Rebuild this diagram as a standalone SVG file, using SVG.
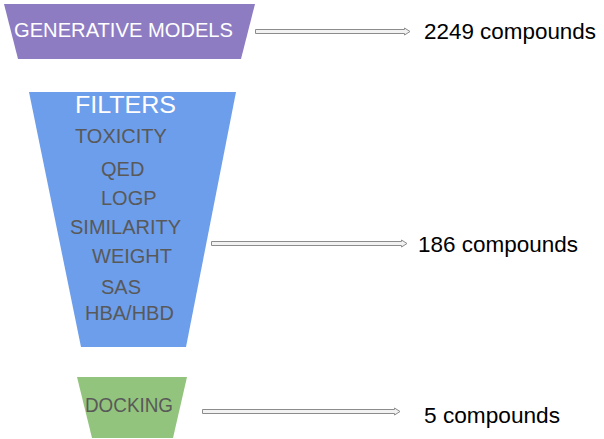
<svg xmlns="http://www.w3.org/2000/svg" width="604" height="439" viewBox="0 0 604 439">
<style>
.lbl{font-family:"Liberation Sans",Arial,sans-serif;}
.w{fill:#ffffff;}
.g{fill:#595959;font-size:20px;}
.cnt{fill:#000000;font-size:22.5px;font-family:"Liberation Sans",Arial,sans-serif;}
.arr{fill:#f2f2f2;stroke:#8c8c8c;stroke-width:1;}
</style>
<rect width="604" height="439" fill="#ffffff"/>
<g id="generative">
<polygon points="4,4 255,4 241,59 18,59" fill="#8e7cc3"/>
<text class="lbl w" x="14" y="37" font-size="20" textLength="219" lengthAdjust="spacingAndGlyphs">GENERATIVE MODELS</text>
</g>
<g id="filters">
<polygon points="29,92 236,92 186,347 81,347" fill="#6d9eeb"/>
<text class="lbl w" x="75" y="113" font-size="24.5" textLength="101" lengthAdjust="spacingAndGlyphs">FILTERS</text>
<text class="lbl g" x="75" y="143">TOXICITY</text>
<text class="lbl g" x="101" y="176">QED</text>
<text class="lbl g" x="101" y="205">LOGP</text>
<text class="lbl g" x="70" y="234">SIMILARITY</text>
<text class="lbl g" x="92" y="263">WEIGHT</text>
<text class="lbl g" x="101" y="294">SAS</text>
<text class="lbl g" x="85" y="320">HBA/HBD</text>
</g>
<g id="docking">
<polygon points="77,377 187,377 173,438 92,438" fill="#93c47d"/>
<text class="lbl g" x="85" y="412" font-size="19" textLength="88" lengthAdjust="spacingAndGlyphs">DOCKING</text>
</g>
<g id="counts">
<text class="cnt" x="424" y="39" textLength="172" lengthAdjust="spacingAndGlyphs">2249 compounds</text>
<text class="cnt" x="418" y="252" textLength="160" lengthAdjust="spacingAndGlyphs">186 compounds</text>
<text class="cnt" x="424" y="423" textLength="136" lengthAdjust="spacingAndGlyphs">5 compounds</text>
</g>
<g id="connectors">
<polygon class="arr" points="255.5,29.5 404.5,29.5 404.5,28 410,31.5 404.5,35 404.5,33.5 255.5,33.5"/>
<polygon class="arr" points="211.5,241.5 401.5,241.5 401.5,240 407,243.5 401.5,247 401.5,245.5 211.5,245.5"/>
<polygon class="arr" points="202.5,409.5 394.5,409.5 394.5,408 400,411.5 394.5,415 394.5,413.5 202.5,413.5"/>
</g>
</svg>
